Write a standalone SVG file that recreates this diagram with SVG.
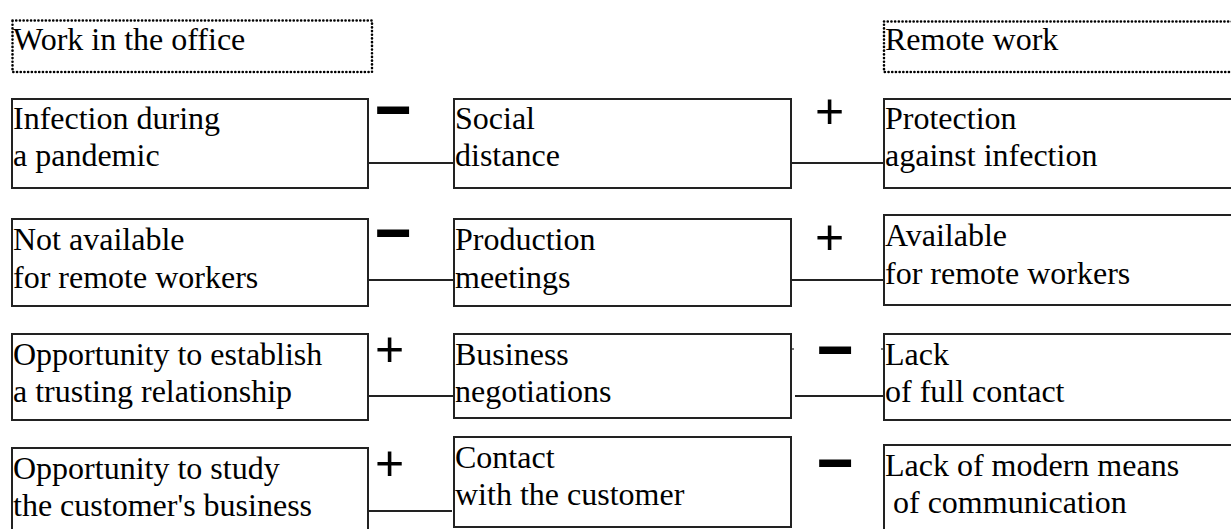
<svg xmlns="http://www.w3.org/2000/svg" width="1231" height="529" viewBox="0 0 1231 529">
<style>
.box{fill:#fff;stroke:#222;stroke-width:2}
.dot{fill:none;stroke:#000;stroke-width:2.6;stroke-linecap:round;stroke-dasharray:0.1 3.6}
.t{font-family:"Liberation Serif","Times New Roman",serif;font-size:32px;fill:#000}
.c{stroke:#222;stroke-width:2;fill:none}
.plus{font-family:"Liberation Sans",Arial,sans-serif;font-size:50px;fill:#000;text-anchor:middle}
.minus{font-family:"DejaVu Sans",sans-serif;font-weight:bold;font-size:51px;fill:#000;text-anchor:middle}
</style>
<rect width="1231" height="529" fill="#fff"/>
<g id="connectors">
<line class="c" x1="368" y1="163" x2="454" y2="163"/>
<line class="c" x1="791" y1="163" x2="884" y2="163"/>
<line class="c" x1="368" y1="280" x2="454" y2="280"/>
<line class="c" x1="791" y1="280" x2="884" y2="280"/>
<line class="c" x1="368" y1="396" x2="454" y2="396"/>
<line class="c" x1="795" y1="396" x2="884" y2="396"/>
<line class="c" x1="791" y1="349" x2="794" y2="349" style="stroke-width:1.2"/>
<line class="c" x1="881" y1="349" x2="884" y2="349" style="stroke-width:1.2"/>
<line class="c" x1="368" y1="511" x2="452" y2="511"/>
<text class="minus" transform="translate(393 110) scale(1 1.3)" y="16">−</text>
<text class="minus" transform="translate(393 233) scale(1 1.3)" y="16">−</text>
<text class="plus" x="389.5" y="366">+</text>
<text class="plus" x="389.5" y="480">+</text>
<text class="plus" x="829.5" y="128">+</text>
<text class="plus" x="829.5" y="254">+</text>
<text class="minus" transform="translate(835 350) scale(1 1.3)" y="16">−</text>
<text class="minus" transform="translate(835 463) scale(1 1.3)" y="16">−</text>
</g>
<g id="header-office">
<rect class="dot" x="12.5" y="20.5" width="359.5" height="51.5"/>
<text class="t" x="13" y="50">Work in the office</text>
</g>
<g id="header-remote">
<rect class="dot" x="884" y="21.5" width="360" height="50.5"/>
<text class="t" x="885" y="50">Remote work</text>
</g>
<g id="office-1">
<rect class="box" x="12" y="99" width="356" height="89"/>
<text class="t" x="13" y="129">Infection during</text>
<text class="t" x="13" y="166">a pandemic</text>
</g>
<g id="factor-1">
<rect class="box" x="454" y="99" width="337" height="89"/>
<text class="t" x="455" y="129">Social</text>
<text class="t" x="455" y="166">distance</text>
</g>
<g id="remote-1">
<rect class="box" x="884" y="99" width="360" height="89"/>
<text class="t" x="885" y="129">Protection</text>
<text class="t" x="885" y="166">against infection</text>
</g>
<g id="office-2">
<rect class="box" x="12" y="219" width="356" height="87"/>
<text class="t" x="13" y="250">Not available</text>
<text class="t" x="13" y="288">for remote workers</text>
</g>
<g id="factor-2">
<rect class="box" x="454" y="219" width="337" height="87"/>
<text class="t" x="455" y="250">Production</text>
<text class="t" x="455" y="288">meetings</text>
</g>
<g id="remote-2">
<rect class="box" x="884" y="215" width="360" height="90"/>
<text class="t" x="885" y="246">Available</text>
<text class="t" x="885" y="284">for remote workers</text>
</g>
<g id="office-3">
<rect class="box" x="12" y="334" width="356" height="86"/>
<text class="t" x="13" y="365">Opportunity to establish</text>
<text class="t" x="13" y="402">a trusting relationship</text>
</g>
<g id="factor-3">
<rect class="box" x="454" y="334" width="337" height="84"/>
<text class="t" x="455" y="365">Business</text>
<text class="t" x="455" y="402">negotiations</text>
</g>
<g id="remote-3">
<rect class="box" x="884" y="334" width="360" height="86"/>
<text class="t" x="885" y="365">Lack</text>
<text class="t" x="885" y="402">of full contact</text>
</g>
<g id="office-4">
<rect class="box" x="12" y="448" width="356" height="100"/>
<text class="t" x="13" y="479">Opportunity to study</text>
<text class="t" x="13" y="516">the customer's business</text>
</g>
<g id="factor-4">
<rect class="box" x="454" y="437" width="337" height="90"/>
<text class="t" x="455" y="468">Contact</text>
<text class="t" x="455" y="505">with the customer</text>
</g>
<g id="remote-4">
<rect class="box" x="884" y="445" width="360" height="100"/>
<text class="t" x="885" y="476">Lack of modern means</text>
<text class="t" x="893" y="513">of communication</text>
</g>
</svg>
